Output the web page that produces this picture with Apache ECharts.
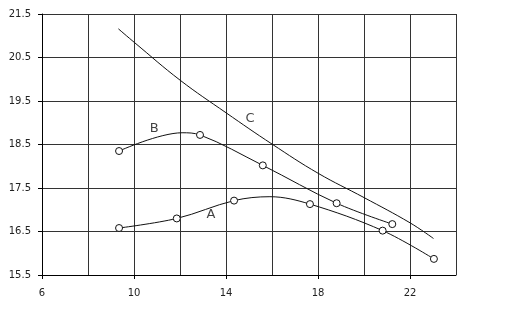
<!DOCTYPE html>
<html>
<head>
<meta charset="utf-8">
<script src="https://cdn.jsdelivr.net/npm/echarts@6/dist/echarts.min.js"></script>
<style>html,body{margin:0;padding:0;background:#fff}#c{width:507px;height:310px}</style>
</head>
<body>
<div id="c"></div>
<script>
// marker points
var seriesA = [[9.35,16.58],[11.86,16.80],[14.35,17.21],[17.65,17.13],[20.81,16.52],[23.04,15.87]];
var seriesB = [[9.35,18.35],[12.87,18.72],[15.60,18.02],[18.81,17.15],[21.23,16.67]];
// extra points (crests between markers)
var curveExtraA = [[15.91,17.30]];
var curveExtraB = [[12.09,18.77]];
// line C (no markers), points read along it
var seriesC = [[9.32,21.16],[10.03,20.84],[12.0,19.98],[14.0,19.23],[16.0,18.51],[18.0,17.84],[20.0,17.28],[22.0,16.70],[23.02,16.34]];
var xTickLabels = [6,10,14,18,22];
var yTickLabels = [15.5,16.5,17.5,18.5,19.5,20.5,21.5];
var annotationNames = ['A','B','C'];
var annotationX = [13.35,10.88,15.04];
var annotationY = [16.88,18.86,19.10];

var font = 'DejaVu Sans';
var ink = '#111';

function mergeCurve(markers, extra) {
  var all = markers.map(function(p){return {value:p};})
    .concat(extra.map(function(p){return {value:p, symbol:'none'};}));
  all.sort(function(a,b){return a.value[0]-b.value[0];});
  return all;
}

var chart = echarts.init(document.getElementById('c'), null, {renderer:'canvas'});
var annData = annotationNames.map(function(n,i){return {name:n, value:[annotationX[i], annotationY[i]]};});
var gridBox = {left:42,right:51,top:14,bottom:35,show:false};
chart.setOption({
  backgroundColor:'#fff',
  animation:false,
  grid:[gridBox, gridBox],
  xAxis:[{
    gridIndex:0,type:'value',min:6,max:24,interval:2,
    axisLine:{show:true,onZero:false,lineStyle:{color:'#000',width:1}},
    axisTick:{show:false},
    axisLabel:{show:true,customValues:xTickLabels,margin:13,color:'#222',fontFamily:font,fontSize:10},
    splitLine:{show:true,lineStyle:{color:'#333',width:1}}
  },{
    gridIndex:1,type:'value',min:6,max:24,interval:2,
    axisLine:{show:false,onZero:false},
    axisTick:{show:true,length:4,inside:false,customValues:xTickLabels,lineStyle:{color:'#000'}},
    axisLabel:{show:false},
    splitLine:{show:false}
  }],
  yAxis:[{
    gridIndex:0,type:'value',min:15.5,max:21.5,interval:1,
    axisLine:{show:true,onZero:false,lineStyle:{color:'#000',width:1}},
    axisTick:{show:true,length:4,lineStyle:{color:'#000'}},
    axisLabel:{show:true,margin:11,color:'#222',fontFamily:font,fontSize:10,
      formatter:function(v){return v.toFixed(1);}},
    splitLine:{show:true,lineStyle:{color:'#333',width:1}}
  },{
    gridIndex:1,type:'value',min:15.5,max:21.5,show:false
  }],
  series:[
    {type:'line',data:mergeCurve(seriesA,curveExtraA),smooth:0.35,symbol:'circle',symbolSize:7,showAllSymbol:true,
      lineStyle:{color:ink,width:1},itemStyle:{color:'#fff',borderColor:ink,borderWidth:1},z:3},
    {type:'line',data:mergeCurve(seriesB,curveExtraB),smooth:0.35,symbol:'circle',symbolSize:7,showAllSymbol:true,
      lineStyle:{color:ink,width:1},itemStyle:{color:'#fff',borderColor:ink,borderWidth:1},z:3},
    {type:'line',data:seriesC,smooth:0.4,symbol:'none',
      lineStyle:{color:ink,width:1},z:2},
    {type:'scatter',data:annData,symbolSize:1,itemStyle:{color:'transparent'},
      label:{show:true,position:'inside',formatter:'{b}',color:'#111',fontFamily:font,fontSize:13},z:4}
  ]
});
</script>
</body>
</html>
